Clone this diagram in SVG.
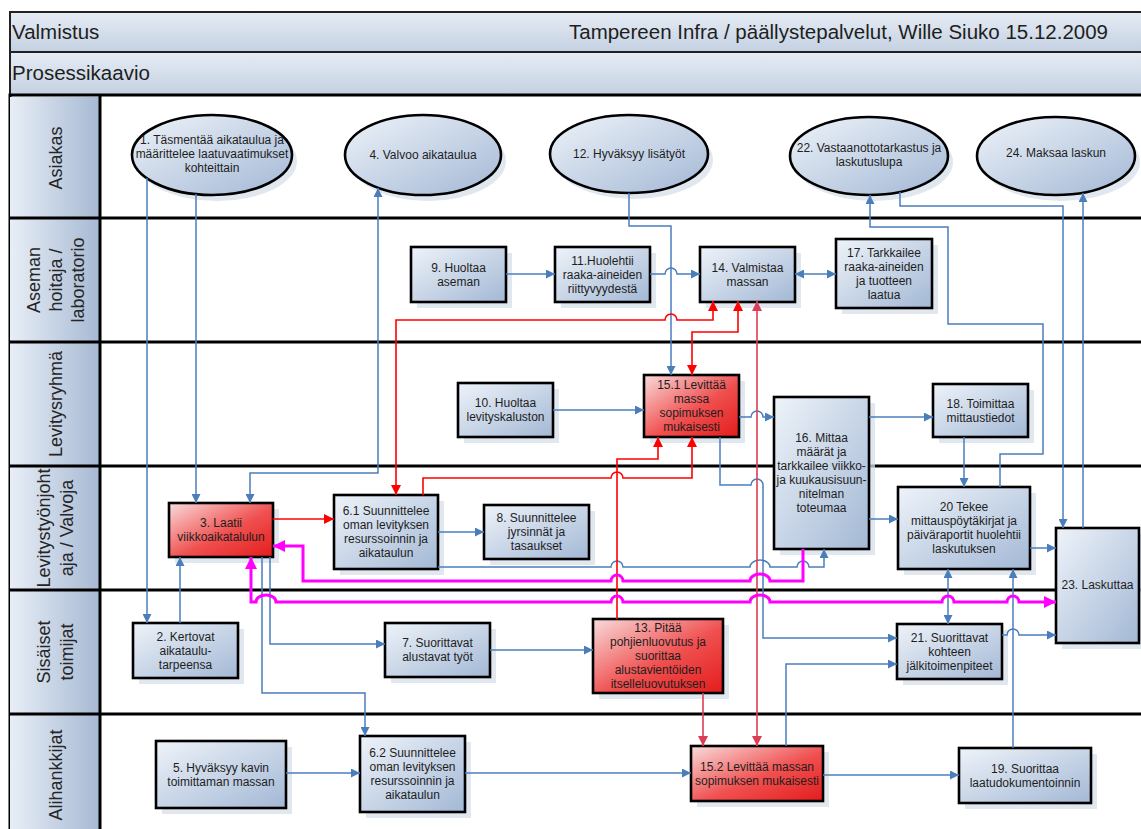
<svg xmlns="http://www.w3.org/2000/svg" width="1141" height="829" viewBox="0 0 1141 829">
  <defs>
    <linearGradient id="gBand" x1="0" y1="0" x2="0" y2="1">
      <stop offset="0" stop-color="#e6ecf4"/>
      <stop offset="1" stop-color="#c4d1e2"/>
    </linearGradient>
    <linearGradient id="gLane" x1="0" y1="0" x2="1" y2="0">
      <stop offset="0" stop-color="#e8eef6"/>
      <stop offset="1" stop-color="#a6b9d3"/>
    </linearGradient>
    <linearGradient id="gBlue" x1="0" y1="0" x2="1" y2="1">
      <stop offset="0" stop-color="#eef3f9"/>
      <stop offset="1" stop-color="#a3b8d5"/>
    </linearGradient>
    <linearGradient id="gRed" x1="0" y1="0" x2="1" y2="1">
      <stop offset="0" stop-color="#f9dcdc"/>
      <stop offset="0.55" stop-color="#f05050"/>
      <stop offset="1" stop-color="#e41c1c"/>
    </linearGradient>
    <marker id="aB" viewBox="0 0 10 10" refX="10" refY="5" markerWidth="10" markerHeight="9" markerUnits="userSpaceOnUse" orient="auto-start-reverse">
      <path d="M0,0 L10,5 L0,10 z" fill="#4a7ebb"/>
    </marker>
    <marker id="aR" viewBox="0 0 10 10" refX="10" refY="5" markerWidth="10" markerHeight="10" markerUnits="userSpaceOnUse" orient="auto-start-reverse">
      <path d="M0,0 L10,5 L0,10 z" fill="#ff0000"/>
    </marker>
    <marker id="aC" viewBox="0 0 10 10" refX="10" refY="5" markerWidth="10" markerHeight="10" markerUnits="userSpaceOnUse" orient="auto-start-reverse">
      <path d="M0,0 L10,5 L0,10 z" fill="#dc3c55"/>
    </marker>
    <marker id="aM" viewBox="0 0 10 10" refX="10" refY="5" markerWidth="13" markerHeight="12" markerUnits="userSpaceOnUse" orient="auto-start-reverse">
      <path d="M0,0 L10,5 L0,10 z" fill="#ff00ff"/>
    </marker>
  </defs>
  <style>
    text { font-family: "Liberation Sans", Arial, sans-serif; fill: #1e1e1e; }
    .t { font-size: 12px; text-anchor: middle; }
    .hdr { font-size: 20.5px; }
    .ln { font-size: 18px; text-anchor: middle; fill: #262626; }
    .box { stroke: #000; stroke-width: 2.6; fill: url(#gBlue); }
    .rbox { stroke: #000; stroke-width: 2.6; fill: url(#gRed); }
    .sh { fill: #d7dfea; opacity: 0.75; }
    .rule { stroke: #000; stroke-width: 3; }
    .b { fill: none; stroke: #4a7ebb; stroke-width: 1.5; }
    .r { fill: none; stroke: #ff0000; stroke-width: 1.6; }
    .c { fill: none; stroke: #dc3c55; stroke-width: 1.6; }
    .m { fill: none; stroke: #ff00ff; stroke-width: 3; }
    .e { marker-end: url(#aB); }
    .be { marker-start: url(#aB); marker-end: url(#aB); }
    .re { marker-end: url(#aR); }
    .rbe { marker-start: url(#aR); marker-end: url(#aR); }
    .ce { marker-end: url(#aC); }
    .cbe { marker-start: url(#aC); marker-end: url(#aC); }
    .me { marker-end: url(#aM); }
    .mbe { marker-start: url(#aM); marker-end: url(#aM); }
  </style>

  <rect width="1141" height="829" fill="#ffffff"/>

  <!-- title bands -->
  <g id="header">
    <rect x="10" y="12" width="1140" height="40" fill="url(#gBand)" stroke="#222" stroke-width="2"/>
    <text class="hdr" x="12" y="39">Valmistus</text>
    <text class="hdr" x="1108" y="39" text-anchor="end">Tampereen Infra / päällystepalvelut, Wille Siuko 15.12.2009</text>
    <rect x="10" y="52" width="1140" height="43" fill="url(#gBand)" stroke="#222" stroke-width="2"/>
    <text class="hdr" x="12" y="80">Prosessikaavio</text>
  </g>

  <!-- swimlanes -->
  <g id="lanes">
    <rect x="10" y="95" width="1140" height="740" fill="#ffffff" stroke="#000" stroke-width="3"/>
    <rect x="10" y="97" width="90" height="121" fill="url(#gLane)"/>
    <rect x="10" y="218" width="90" height="124" fill="url(#gLane)"/>
    <rect x="10" y="342" width="90" height="124" fill="url(#gLane)"/>
    <rect x="10" y="466" width="90" height="124" fill="url(#gLane)"/>
    <rect x="10" y="590" width="90" height="124" fill="url(#gLane)"/>
    <rect x="10" y="714" width="90" height="120" fill="url(#gLane)"/>
    <line class="rule" x1="100" y1="95" x2="100" y2="829"/>
    <line class="rule" x1="10" y1="218" x2="1141" y2="218"/>
    <line class="rule" x1="10" y1="342" x2="1141" y2="342"/>
    <line class="rule" x1="10" y1="466" x2="1141" y2="466"/>
    <line class="rule" x1="10" y1="590" x2="1141" y2="590"/>
    <line class="rule" x1="10" y1="714" x2="1141" y2="714"/>
    <text class="ln" transform="translate(55,158) rotate(-90)" y="7">Asiakas</text>
    <text class="ln" transform="translate(33,280) rotate(-90)" y="7">Aseman</text>
    <text class="ln" transform="translate(55,280) rotate(-90)" y="7">hoitaja /</text>
    <text class="ln" transform="translate(77,280) rotate(-90)" y="7">laboratorio</text>
    <text class="ln" transform="translate(55,404) rotate(-90)" y="7">Levitysryhmä</text>
    <text class="ln" transform="translate(43,528) rotate(-90)" y="7">Levitystyönjoht</text>
    <text class="ln" transform="translate(66,528) rotate(-90)" y="7">aja / Valvoja</text>
    <text class="ln" transform="translate(43,652) rotate(-90)" y="7">Sisäiset</text>
    <text class="ln" transform="translate(66,652) rotate(-90)" y="7">toimijat</text>
    <text class="ln" transform="translate(55,775) rotate(-90)" y="7">Alihankkijat</text>
  </g>

  <!-- Asiakas -->
  <g id="n1">
    <ellipse class="sh" cx="217" cy="161" rx="80" ry="40"/>
    <ellipse class="box" cx="212" cy="155" rx="80" ry="40"/>
    <text class="t" x="212" y="144">1. Täsmentää aikataulua ja</text>
    <text class="t" x="212" y="158">määrittelee laatuvaatimukset</text>
    <text class="t" x="212" y="172">kohteittain</text>
  </g>
  <g id="n4">
    <ellipse class="sh" cx="428" cy="161" rx="78" ry="40"/>
    <ellipse class="box" cx="423" cy="155" rx="78" ry="40"/>
    <text class="t" x="423" y="159">4. Valvoo aikataulua</text>
  </g>
  <g id="n12">
    <ellipse class="sh" cx="634" cy="160" rx="79" ry="39"/>
    <ellipse class="box" cx="629" cy="154" rx="79" ry="39"/>
    <text class="t" x="629" y="158">12. Hyväksyy lisätyöt</text>
  </g>
  <g id="n22">
    <ellipse class="sh" cx="874" cy="162" rx="79" ry="39"/>
    <ellipse class="box" cx="869" cy="156" rx="79" ry="39"/>
    <text class="t" x="869" y="152">22. Vastaanottotarkastus ja</text>
    <text class="t" x="869" y="166">laskutuslupa</text>
  </g>
  <g id="n24">
    <ellipse class="sh" cx="1061" cy="162" rx="79" ry="39"/>
    <ellipse class="box" cx="1056" cy="156" rx="79" ry="39"/>
    <text class="t" x="1056" y="157">24. Maksaa laskun</text>
  </g>

  <!-- Aseman hoitaja / laboratorio -->
  <g id="n9">
    <rect class="sh" x="417" y="253" width="95" height="55"/>
    <rect class="box" x="411" y="247" width="95" height="55"/>
    <text class="t" x="458.5" y="271.5">9. Huoltaa</text>
    <text class="t" x="458.5" y="285.5">aseman</text>
  </g>
  <g id="n11">
    <rect class="sh" x="561" y="253" width="95" height="55"/>
    <rect class="box" x="555" y="247" width="95" height="55"/>
    <text class="t" x="602.5" y="264.5">11.Huolehtii</text>
    <text class="t" x="602.5" y="278.5">raaka-aineiden</text>
    <text class="t" x="602.5" y="292.5">riittyvyydestä</text>
  </g>
  <g id="n14">
    <rect class="sh" x="706" y="253" width="95" height="55"/>
    <rect class="box" x="700" y="247" width="95" height="55"/>
    <text class="t" x="747.5" y="271.5">14. Valmistaa</text>
    <text class="t" x="747.5" y="285.5">massan</text>
  </g>
  <g id="n17">
    <rect class="sh" x="842" y="245" width="96" height="69"/>
    <rect class="box" x="836" y="239" width="96" height="69"/>
    <text class="t" x="884" y="256.5">17. Tarkkailee</text>
    <text class="t" x="884" y="270.5">raaka-aineiden</text>
    <text class="t" x="884" y="284.5">ja tuotteen</text>
    <text class="t" x="884" y="298.5">laatua</text>
  </g>

  <!-- Levitysryhmä -->
  <g id="n10">
    <rect class="sh" x="464" y="389" width="95" height="54"/>
    <rect class="box" x="458" y="383" width="95" height="54"/>
    <text class="t" x="505.5" y="407">10. Huoltaa</text>
    <text class="t" x="505.5" y="421">levityskaluston</text>
  </g>
  <g id="n15_1">
    <rect class="sh" x="650" y="381" width="95" height="62"/>
    <rect class="rbox" x="644" y="375" width="95" height="62"/>
    <text class="t" x="691.5" y="389">15.1 Levittää</text>
    <text class="t" x="691.5" y="403">massa</text>
    <text class="t" x="691.5" y="417">sopimuksen</text>
    <text class="t" x="691.5" y="431">mukaisesti</text>
  </g>
  <g id="n16">
    <rect class="sh" x="780" y="403" width="95" height="152"/>
    <rect class="box" x="774" y="397" width="95" height="152"/>
    <text class="t" x="821.5" y="442">16. Mittaa</text>
    <text class="t" x="821.5" y="456">määrät ja</text>
    <text class="t" x="821.5" y="470">tarkkailee viikko-</text>
    <text class="t" x="821.5" y="484">ja kuukausisuun-</text>
    <text class="t" x="821.5" y="498">nitelman</text>
    <text class="t" x="821.5" y="512">toteumaa</text>
  </g>
  <g id="n18">
    <rect class="sh" x="939" y="390" width="95" height="53"/>
    <rect class="box" x="933" y="384" width="95" height="53"/>
    <text class="t" x="980.5" y="407.5">18. Toimittaa</text>
    <text class="t" x="980.5" y="421.5">mittaustiedot</text>
  </g>

  <!-- Levitystyönjohtaja / Valvoja -->
  <g id="n3">
    <rect class="sh" x="175" y="509" width="104" height="54"/>
    <rect class="rbox" x="169" y="503" width="104" height="54"/>
    <text class="t" x="221" y="527">3. Laatii</text>
    <text class="t" x="221" y="541">viikkoaikatalulun</text>
  </g>
  <g id="n6_1">
    <rect class="sh" x="340" y="501" width="104" height="74"/>
    <rect class="box" x="334" y="495" width="104" height="74"/>
    <text class="t" x="386" y="515">6.1 Suunnittelee</text>
    <text class="t" x="386" y="529">oman levityksen</text>
    <text class="t" x="386" y="543">resurssoinnin ja</text>
    <text class="t" x="386" y="557">aikataulun</text>
  </g>
  <g id="n8">
    <rect class="sh" x="490" y="511" width="105" height="54"/>
    <rect class="box" x="484" y="505" width="105" height="54"/>
    <text class="t" x="536.5" y="522">8. Suunnittelee</text>
    <text class="t" x="536.5" y="536">jyrsinnät ja</text>
    <text class="t" x="536.5" y="550">tasaukset</text>
  </g>
  <g id="n20">
    <rect class="sh" x="904" y="493" width="132" height="82"/>
    <rect class="box" x="898" y="487" width="132" height="82"/>
    <text class="t" x="964" y="511">20 Tekee</text>
    <text class="t" x="964" y="525">mittauspöytäkirjat ja</text>
    <text class="t" x="964" y="539">päiväraportit huolehtii</text>
    <text class="t" x="964" y="553">laskutuksen</text>
  </g>
  <g id="n23">
    <rect class="sh" x="1062" y="534" width="83" height="115"/>
    <rect class="box" x="1056" y="528" width="83" height="115"/>
    <text class="t" x="1097.5" y="589">23. Laskuttaa</text>
  </g>

  <!-- Sisäiset toimijat -->
  <g id="n2">
    <rect class="sh" x="139" y="629" width="105" height="55"/>
    <rect class="box" x="133" y="623" width="105" height="55"/>
    <text class="t" x="185.5" y="640.5">2. Kertovat</text>
    <text class="t" x="185.5" y="654.5">aikataulu-</text>
    <text class="t" x="185.5" y="668.5">tarpeensa</text>
  </g>
  <g id="n7">
    <rect class="sh" x="391" y="629" width="105" height="54"/>
    <rect class="box" x="385" y="623" width="105" height="54"/>
    <text class="t" x="437.5" y="647">7. Suorittavat</text>
    <text class="t" x="437.5" y="661">alustavat työt</text>
  </g>
  <g id="n13">
    <rect class="sh" x="599" y="625" width="130" height="74"/>
    <rect class="rbox" x="593" y="619" width="130" height="74"/>
    <text class="t" x="658" y="632">13. Pitää</text>
    <text class="t" x="658" y="646">pohjienluovutus ja</text>
    <text class="t" x="658" y="660">suorittaa</text>
    <text class="t" x="658" y="674">alustavientöiden</text>
    <text class="t" x="658" y="688">itselleluovutuksen</text>
  </g>
  <g id="n21">
    <rect class="sh" x="903" y="630" width="105" height="55"/>
    <rect class="box" x="897" y="624" width="105" height="55"/>
    <text class="t" x="949.5" y="641.5">21. Suorittavat</text>
    <text class="t" x="949.5" y="655.5">kohteen</text>
    <text class="t" x="949.5" y="669.5">jälkitoimenpiteet</text>
  </g>

  <!-- Alihankkijat -->
  <g id="n5">
    <rect class="sh" x="162" y="747" width="130" height="67"/>
    <rect class="box" x="156" y="741" width="130" height="67"/>
    <text class="t" x="221" y="771.5">5. Hyväksyy kavin</text>
    <text class="t" x="221" y="785.5">toimittaman massan</text>
  </g>
  <g id="n6_2">
    <rect class="sh" x="366" y="742" width="105" height="76"/>
    <rect class="box" x="360" y="736" width="105" height="76"/>
    <text class="t" x="412.5" y="757">6.2 Suunnittelee</text>
    <text class="t" x="412.5" y="771">oman levityksen</text>
    <text class="t" x="412.5" y="785">resurssoinnin ja</text>
    <text class="t" x="412.5" y="799">aikataulun</text>
  </g>
  <g id="n15_2">
    <rect class="sh" x="697" y="752" width="132" height="55"/>
    <rect class="rbox" x="691" y="746" width="132" height="55"/>
    <text class="t" x="757" y="770.5">15.2 Levittää massan</text>
    <text class="t" x="757" y="784.5">sopimuksen mukaisesti</text>
  </g>
  <g id="n19">
    <rect class="sh" x="965" y="754" width="132" height="55"/>
    <rect class="box" x="959" y="748" width="132" height="55"/>
    <text class="t" x="1025" y="772.5">19. Suorittaa</text>
    <text class="t" x="1025" y="786.5">laatudokumentoinnin</text>
  </g>

  <!-- connectors; line jumps drawn as small arcs on the horizontal runs -->
  <g id="connectors">
    <!-- blue flows -->
    <path class="b e" d="M147,178 V623"/>
    <path class="b e" d="M196,194 V503"/>
    <path class="b e" d="M180,623 V557"/>
    <path class="b be" d="M378,188 V473 H250 V503"/>
    <path class="b e" d="M629,193 V226 H671 V375"/>
    <path class="b e" d="M506,274 H555"/>
    <path class="b e" d="M650,274 H665 A6,6 0 0 1 677,274 H700"/>
    <path class="b be" d="M795,274 H836"/>
    <path class="b e" d="M1000,487 V454 H1043 V324 H948 V227 H870 V195"/>
    <path class="b e" d="M900,192 V206 H1063 V528"/>
    <path class="b e" d="M1083,528 V193"/>
    <path class="b e" d="M553,410 H644"/>
    <path class="b e" d="M739,417 H751 A6,6 0 0 1 763,417 H774"/>
    <path class="b e" d="M720,437 V485 H751 A6,6 0 0 1 763,485 V638 H897"/>
    <path class="b e" d="M438,532 H484"/>
    <path class="b e" d="M438,567 H611 A6,6 0 0 1 623,567 H750 A10,7 0 0 1 770,567 H797 A6,6 0 0 1 809,567 H824 V549"/>
    <path class="b e" d="M270,557 V644 H385"/>
    <path class="b e" d="M262,557 V693 H365 V736"/>
    <path class="b e" d="M490,650 H593"/>
    <path class="b e" d="M286,773 H360"/>
    <path class="b e" d="M465,773 H691"/>
    <path class="b e" d="M823,775 H959"/>
    <path class="b e" d="M786,746 V664 H897"/>
    <path class="b e" d="M1013,748 V569"/>
    <path class="b be" d="M948,569 V624"/>
    <path class="b e" d="M1002,635 H1007 A6,6 0 0 1 1019,635 H1056"/>
    <path class="b e" d="M869,417 H933"/>
    <path class="b e" d="M964,437 V487"/>
    <path class="b e" d="M869,519 H898"/>
    <path class="b e" d="M1030,548 H1056"/>

    <!-- red flows -->
    <path class="r rbe" d="M396,495 V320 H665 A6,6 0 0 1 677,320 H713 V301"/>
    <path class="r rbe" d="M692,375 V332 H738 V301"/>
    <path class="r re" d="M617,619 V459 H658 V437"/>
    <path class="r re" d="M423,495 V478 H611 A6,6 0 0 1 623,478 H692 V437"/>
    <path class="r re" d="M273,519 H334"/>
    <path class="c cbe" d="M757,301 V746"/>
    <path class="c ce" d="M703,693 V746"/>

    <!-- magenta flows -->
    <path class="m me" d="M803,549 V581 H770 A10,7 0 0 0 750,581 H623 A6,6 0 0 0 611,581 H303 V546 H273"/>
    <path class="m mbe" d="M251,557 V602 H256 A10,7 0 0 1 276,602 H611 A6,6 0 0 1 623,602 H750 A10,7 0 0 1 770,602 H942 A6,6 0 0 1 954,602 H1007 A6,6 0 0 1 1019,602 H1056"/>
  </g>
</svg>
